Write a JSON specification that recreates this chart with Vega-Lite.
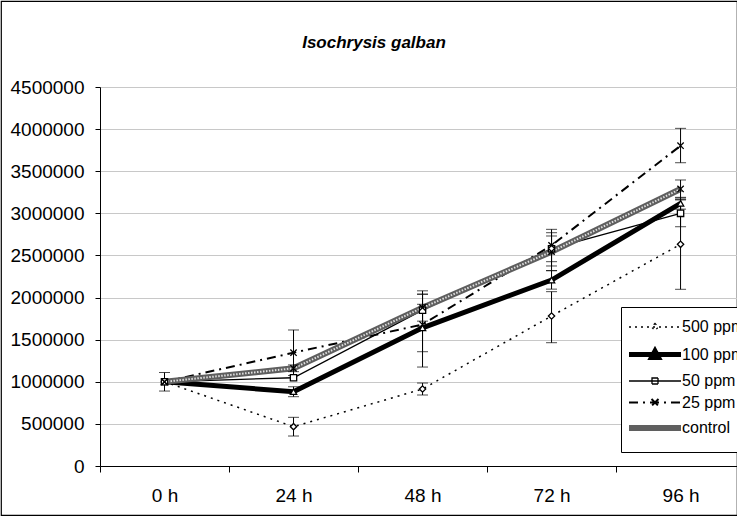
{
  "$schema": "https://vega.github.io/schema/vega-lite/v6.json",
  "width": 736,
  "height": 514,
  "autosize": {"type": "none"},
  "padding": {"left": 1, "top": 1, "right": 0, "bottom": 1},
  "background": "white",
  "config": {
    "view": {"stroke": "black", "strokeWidth": 1.2},
    "font": "Liberation Sans",
    "axis": {"labelFont": "Liberation Sans", "labelColor": "black", "domainColor": "black", "tickColor": "black", "domainWidth": 1, "tickWidth": 1}
  },
  "title": {
    "text": "Isochrysis galban",
    "font": "Liberation Sans",
    "fontSize": 17,
    "fontStyle": "italic",
    "fontWeight": "bold",
    "color": "black",
    "frame": "group",
    "anchor": "middle",
    "baseline": "middle",
    "offset": -59,
    "dx": 5
  },
  "data": {
    "values": [
      {"t": 0, "s": "500 ppm", "v": 1000000},
      {"t": 0, "s": "100 ppm", "v": 1000000, "lo": 890000, "hi": 1110000},
      {"t": 0, "s": "50 ppm", "v": 1000000},
      {"t": 0, "s": "25 ppm", "v": 1000000},
      {"t": 0, "s": "control", "v": 1000000},
      {"t": 24, "s": "500 ppm", "v": 467000, "lo": 356000, "hi": 578000},
      {"t": 24, "s": "100 ppm", "v": 882000, "lo": 823000, "hi": 941000},
      {"t": 24, "s": "50 ppm", "v": 1048000},
      {"t": 24, "s": "25 ppm", "v": 1345000, "lo": 1075000, "hi": 1615000},
      {"t": 24, "s": "control", "v": 1160000, "lo": 1120000, "hi": 1200000},
      {"t": 48, "s": "500 ppm", "v": 914000, "lo": 843000, "hi": 985000},
      {"t": 48, "s": "100 ppm", "v": 1640000, "lo": 1357000, "hi": 1920000},
      {"t": 48, "s": "50 ppm", "v": 1850000, "lo": 1660000, "hi": 2040000},
      {"t": 48, "s": "25 ppm", "v": 1680000, "lo": 1175000, "hi": 2080000},
      {"t": 48, "s": "control", "v": 1880000, "lo": 1720000, "hi": 2040000},
      {"t": 72, "s": "500 ppm", "v": 1781000, "lo": 1464000, "hi": 2070000},
      {"t": 72, "s": "100 ppm", "v": 2208000, "lo": 2100000, "hi": 2320000},
      {"t": 72, "s": "50 ppm", "v": 2580000, "lo": 2375000, "hi": 2770000},
      {"t": 72, "s": "25 ppm", "v": 2620000, "lo": 2426000, "hi": 2810000},
      {"t": 72, "s": "control", "v": 2545000, "lo": 2319000, "hi": 2731000},
      {"t": 96, "s": "500 ppm", "v": 2632000, "lo": 2098000, "hi": 3166000},
      {"t": 96, "s": "100 ppm", "v": 3119000, "lo": 3050000, "hi": 3190000},
      {"t": 96, "s": "50 ppm", "v": 3000000, "lo": 2841000, "hi": 3159000},
      {"t": 96, "s": "25 ppm", "v": 3803000, "lo": 3601000, "hi": 4009000},
      {"t": 96, "s": "control", "v": 3289000, "lo": 3182000, "hi": 3396000}
    ]
  },
  "encoding": {
    "x": {
      "field": "t",
      "type": "quantitative",
      "scale": {"domain": [-12, 106.5], "range": [99, 736], "nice": false, "zero": false},
      "axis": {
        "title": null,
        "offset": -49,
        "grid": false,
        "values": [-12, 0, 12, 24, 36, 48, 60, 72, 84, 96],
        "labelExpr": "datum.value % 24 === 0 ? datum.value + ' h' : ''",
        "tickOpacity": {"condition": {"test": "datum.value % 24 === 0", "value": 0}, "value": 1},
        "tickSize": 6,
        "labelPadding": 14,
        "labelFontSize": 19,
        "labelOverlap": false,
        "labelBound": false,
        "labelFlush": false
      }
    },
    "y": {
      "field": "v",
      "type": "quantitative",
      "scale": {"domain": [0, 4500000], "range": [465, 86], "nice": false, "zero": true},
      "axis": {
        "title": null,
        "offset": -99,
        "values": [0, 500000, 1000000, 1500000, 2000000, 2500000, 3000000, 3500000, 4000000, 4500000],
        "format": "d",
        "grid": true,
        "gridColor": "#c8c8c8",
        "tickSize": 5,
        "labelPadding": 11,
        "labelFontSize": 19,
        "labelOverlap": false,
        "labelBound": false,
        "labelFlush": false
      }
    }
  },
  "resolve": {"scale": {"shape": "independent"}},
  "layer": [
    {
      "transform": [{"filter": "datum.s === '500 ppm'"}],
      "mark": {"type": "line", "color": "black", "strokeWidth": 1.5, "strokeDash": [2, 5], "strokeCap": "butt"}
    },
    {
      "transform": [{"filter": "datum.s === '100 ppm'"}],
      "mark": {"type": "line", "color": "black", "strokeWidth": 5}
    },
    {
      "transform": [{"filter": "datum.s === '50 ppm'"}],
      "mark": {"type": "line", "color": "black", "strokeWidth": 1.3}
    },
    {
      "transform": [{"filter": "datum.s === '25 ppm'"}],
      "mark": {"type": "line", "color": "black", "strokeWidth": 2, "strokeDash": [9, 5, 2, 5], "strokeCap": "butt"}
    },
    {
      "transform": [{"filter": "datum.s === 'control'"}],
      "mark": {"type": "line", "color": "#5f5f5f", "strokeWidth": 6}
    },
    {
      "transform": [{"filter": "datum.s === 'control'"}],
      "mark": {"type": "line", "color": "#e0e0e0", "strokeWidth": 2, "strokeDash": [1.5, 1.5], "strokeCap": "butt"}
    },
    {
      "transform": [{"filter": "isValid(datum.lo)"}],
      "mark": {"type": "rule", "color": "black", "strokeWidth": 1},
      "encoding": {"y": {"field": "lo", "type": "quantitative"}, "y2": {"field": "hi"}}
    },
    {
      "transform": [{"filter": "isValid(datum.lo)"}],
      "mark": {"type": "tick", "orient": "horizontal", "color": "black", "thickness": 1, "size": 11},
      "encoding": {"y": {"field": "lo", "type": "quantitative"}}
    },
    {
      "transform": [{"filter": "isValid(datum.hi)"}],
      "mark": {"type": "tick", "orient": "horizontal", "color": "black", "thickness": 1, "size": 11},
      "encoding": {"y": {"field": "hi", "type": "quantitative"}}
    },
    {
      "mark": {"type": "point", "fill": "white", "stroke": "black", "strokeWidth": 1.3, "opacity": 1, "size": 40},
      "encoding": {
        "shape": {
          "field": "s",
          "type": "nominal",
          "scale": {
            "domain": ["500 ppm", "100 ppm", "50 ppm", "25 ppm", "control"],
            "range": ["diamond", "triangle-up", "square", "M-1,-1L1,1M1,-1L-1,1", "M-1,-1L1,1M1,-1L-1,1"]
          },
          "legend": null
        }
      }
    },
    {
      "transform": [{"filter": "datum.t < -100"}],
      "mark": {"type": "point", "fill": "white", "stroke": "black", "opacity": 1},
      "encoding": {
        "shape": {
          "field": "s",
          "type": "nominal",
          "scale": {
            "domain": ["500 ppm", "100 ppm", "50 ppm", "25 ppm", "control"],
            "range": [
              "M-5.2,0H5.2M0,-0.7L0.7,0L0,0.7L-0.7,0Z",
              "M-5.2,0H5.2M0,-0.7L0.7,0.6L-0.7,0.6Z",
              "M-5.2,0H5.2M-0.6,-0.6H0.6V0.6H-0.6Z",
              "M-5.2,0H5.2M-0.7,-0.7L0.7,0.7M0.7,-0.7L-0.7,0.7",
              "M-5.2,0H5.2"
            ]
          },
          "legend": {
            "title": null,
            "orient": "none",
            "legendX": 620,
            "legendY": 306,
            "strokeColor": "black",
            "fillColor": "white",
            "padding": 12,
            "cornerRadius": 0,
            "symbolSize": 100,
            "symbolOffset": 14,
            "labelOffset": 19,
            "labelFont": "Liberation Sans",
            "labelFontSize": 16,
            "labelColor": "black",
            "labelLimit": 0,
            "rowPadding": 5.5,
            "encoding": {
              "symbols": {
                "stroke": {"value": {"expr": "datum.value === 'control' ? '#5f5f5f' : 'black'"}},
                "strokeWidth": {"value": {"expr": "datum.value === '100 ppm' ? 5 : datum.value === 'control' ? 6 : datum.value === '25 ppm' ? 2 : 1.3"}},
                "strokeDash": {"value": {"expr": "datum.value === '500 ppm' ? [2, 4] : datum.value === '25 ppm' ? [9, 5, 2, 5] : [1, 0]"}},
                "fill": {"value": "white"},
                "size": {"value": 100},
                "opacity": {"value": 1}
              }
            }
          }
        }
      }
    }
  ]
}
